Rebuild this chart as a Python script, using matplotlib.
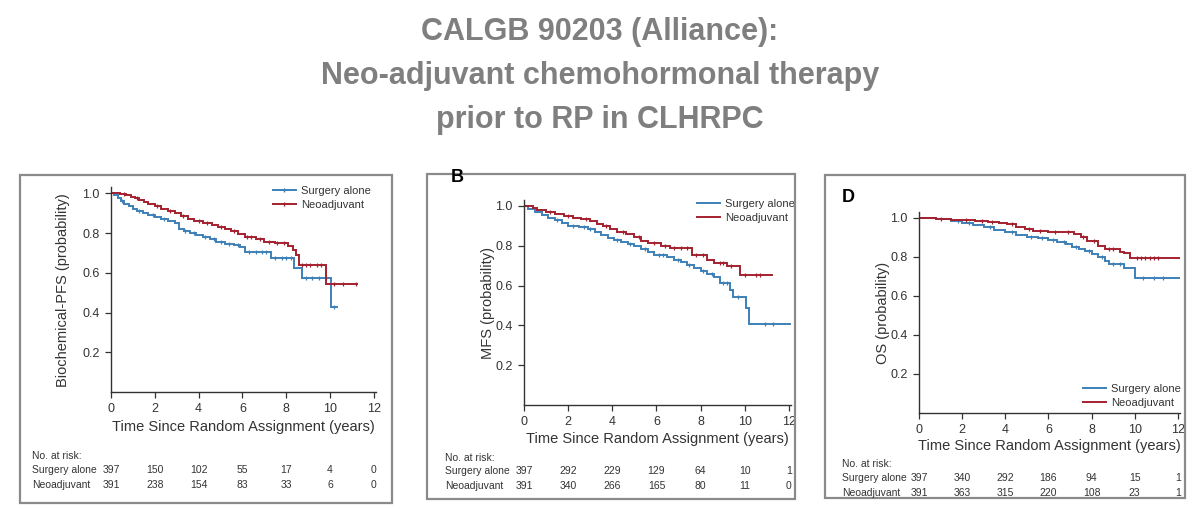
import numpy as np
import matplotlib
matplotlib.use("Agg")
import matplotlib.pyplot as plt
from matplotlib.lines import Line2D
from matplotlib.patches import Rectangle

plt.rcParams['font.family'] = ['Liberation Sans', 'DejaVu Sans']

W, H = 1200, 509
BLUE = "#3d80b8"
RED = "#a5202f"

title_lines = ["CALGB 90203 (Alliance):",
               "Neo-adjuvant chemohormonal therapy",
               "prior to RP in CLHRPC"]

groups = ["Surgery alone", "Neoadjuvant"]
risk_years = [0, 2, 4, 6, 8, 10, 12]

# Panel A: biochemical PFS
pfs_t_surg = [0, 0.15, 0.3, 0.45, 0.6, 0.8, 1.0, 1.2, 1.45, 1.7, 2.0, 2.3, 2.6, 2.9, 3.1, 3.35,
              3.6, 3.9, 4.2, 4.5, 4.8, 5.2, 5.6, 5.9, 6.1, 7.3, 8.35, 8.7, 10.05, 10.3]
pfs_s_surg = [1.0, 0.99, 0.975, 0.96, 0.948, 0.935, 0.922, 0.91, 0.90, 0.892, 0.882, 0.872, 0.862,
              0.849, 0.82, 0.81, 0.80, 0.79, 0.78, 0.77, 0.755, 0.745, 0.74, 0.73, 0.705, 0.675,
              0.625, 0.575, 0.43, 0.43]
pfs_t_neo = [0, 0.4, 0.7, 0.9, 1.1, 1.3, 1.5, 1.7, 2.0, 2.3, 2.6, 2.9, 3.2, 3.5, 3.8, 4.2, 4.6,
             4.9, 5.2, 5.5, 5.8, 6.1, 6.6, 7.0, 7.5, 8.1, 8.3, 8.45, 8.6, 9.8, 11.25]
pfs_s_neo = [1.0, 0.995, 0.99, 0.983, 0.975, 0.965, 0.955, 0.945, 0.935, 0.922, 0.912, 0.9, 0.888,
             0.872, 0.858, 0.852, 0.842, 0.83, 0.818, 0.808, 0.795, 0.78, 0.768, 0.755, 0.748,
             0.735, 0.715, 0.69, 0.638, 0.545, 0.545]
pfs_cens_surg = [0.5, 1.3, 1.9, 2.4, 3.4, 3.8, 4.3, 4.7, 5.0, 5.4, 5.8, 6.3, 6.6, 6.9, 7.1, 7.5,
                 7.8, 8.0, 8.2, 8.9, 9.2, 9.5, 9.8, 10.2]
pfs_cens_neo = [0.6, 1.2, 2.1, 2.7, 3.3, 4.0, 4.4, 5.0, 5.6, 6.2, 6.4, 6.8, 7.2, 7.6, 7.9, 8.7,
                8.9, 9.1, 9.4, 9.6, 10.2, 10.6, 11.2]
pfs_risk_surg = [397, 150, 102, 55, 17, 4, 0]
pfs_risk_neo = [391, 238, 154, 83, 33, 6, 0]

# Panel B: MFS
mfs_t_surg = [0, 0.2, 0.5, 0.8, 1.1, 1.4, 1.7, 2.0, 2.5, 2.9, 3.2, 3.5, 3.8, 4.1, 4.4, 4.7, 5.0,
              5.3, 5.6, 5.9, 6.5, 6.8, 7.1, 7.4, 7.7, 8.0, 8.3, 8.6, 8.9, 9.35, 9.45, 10.05, 10.2,
              12.05]
mfs_s_surg = [1.0, 0.985, 0.97, 0.955, 0.942, 0.928, 0.912, 0.899, 0.893, 0.882, 0.868, 0.853,
              0.84, 0.83, 0.82, 0.81, 0.797, 0.783, 0.767, 0.752, 0.742, 0.73, 0.718, 0.703,
              0.688, 0.675, 0.66, 0.645, 0.615, 0.58, 0.545, 0.489, 0.405, 0.405]
mfs_t_neo = [0, 0.4, 0.6, 1.0, 1.4, 1.8, 2.2, 2.6, 3.0, 3.3, 3.6, 3.9, 4.2, 4.6, 5.0, 5.3, 5.6,
             6.2, 6.6, 7.6, 8.3, 8.6, 9.2, 9.8, 11.25]
mfs_s_neo = [1.0, 0.99, 0.98, 0.971, 0.962, 0.952, 0.942, 0.935, 0.922, 0.91, 0.9, 0.885, 0.868,
             0.858, 0.843, 0.825, 0.812, 0.8, 0.79, 0.755, 0.73, 0.715, 0.70, 0.655, 0.655]
mfs_cens_surg = [1.5, 2.2, 2.7, 3.0, 4.2, 4.8, 5.5, 6.1, 6.3, 7.0, 7.5, 8.1, 8.5, 9.0, 9.2, 9.7,
                 10.9, 11.3]
mfs_cens_neo = [1.2, 2.0, 2.8, 3.7, 4.5, 5.2, 5.9, 6.4, 6.8, 7.1, 7.4, 7.8, 8.1, 8.9, 9.0, 9.4,
                10.0, 10.5, 10.7]
mfs_risk_surg = [397, 292, 229, 129, 64, 10, 1]
mfs_risk_neo = [391, 340, 266, 165, 80, 11, 0]

# Panel D: OS
os_t_surg = [0, 0.8, 1.5, 2.0, 2.5, 3.0, 3.5, 4.0, 4.5, 5.0, 5.5, 6.0, 6.4, 6.8, 7.1, 7.4, 7.7,
             8.0, 8.3, 8.6, 8.8, 9.5, 10.0, 12.1]
os_s_surg = [1.0, 0.995, 0.985, 0.975, 0.965, 0.952, 0.94, 0.928, 0.914, 0.902, 0.896, 0.887,
             0.877, 0.865, 0.852, 0.84, 0.828, 0.815, 0.8, 0.78, 0.764, 0.742, 0.69, 0.69]
os_t_neo = [0, 0.8, 1.5, 2.6, 3.2, 3.7, 4.1, 4.5, 4.9, 5.3, 6.0, 6.6, 7.2, 7.5, 7.8, 8.3, 8.6,
            9.3, 9.5, 9.8, 12.1]
os_s_neo = [1.0, 0.995, 0.99, 0.985, 0.98, 0.975, 0.968, 0.955, 0.943, 0.935, 0.93, 0.925, 0.915,
            0.9, 0.882, 0.855, 0.842, 0.827, 0.82, 0.796, 0.796]
os_cens_surg = [1.8, 2.3, 3.3, 4.3, 5.2, 5.7, 6.2, 6.7, 7.3, 7.9, 8.5, 9.0, 9.3, 10.4, 10.9, 11.3]
os_cens_neo = [1.0, 2.2, 2.9, 3.4, 4.3, 5.1, 5.6, 6.3, 6.9, 7.6, 8.1, 8.8, 9.0, 10.1, 10.3, 10.5,
               10.7, 10.9, 11.1]
os_risk_surg = [397, 340, 292, 186, 94, 15, 1]
os_risk_neo = [391, 363, 315, 220, 108, 23, 1]


def fx(px):
    return px / W


def fy(py):
    return 1 - py / H


def step_value(t, s, x):
    idx = np.searchsorted(t, x, side="right") - 1
    return np.asarray(s)[idx]


def km(ax, t, s, cens, color):
    ax.plot(t, s, drawstyle="steps-post", color=color, lw=1.4, solid_joinstyle="miter")
    ax.plot(cens, step_value(t, s, cens), ls="none", marker="|", ms=3.5, mew=0.9, color=color)


fig = plt.figure(figsize=(W / 100, H / 100), dpi=100)

for line, py in zip(title_lines, [32, 76, 120]):
    fig.text(0.5, fy(py), line, ha="center", va="center", fontsize=22, fontweight="bold",
             color="#7f7f7f")

panels = [
    dict(box=(20, 175, 392, 503), ax=(111, 376, 392, 204.7), ylab="Biochemical-PFS (probability)",
         ylab_pos=(63, 290), xlab_y=427, risk_y=(456, 470, 485), risk_x=32,
         curves=(pfs_t_surg, pfs_s_surg, pfs_cens_surg, pfs_t_neo, pfs_s_neo, pfs_cens_neo),
         risk=(pfs_risk_surg, pfs_risk_neo), letter=None,
         leg=dict(loc="upper right", at=(371, 186)), leg_marks=True),
    dict(box=(427, 174, 795, 499), ax=(524, 791, 405, 205), ylab="MFS (probability)",
         ylab_pos=(488, 303), xlab_y=439, risk_y=(458, 471, 486), risk_x=445,
         curves=(mfs_t_surg, mfs_s_surg, mfs_cens_surg, mfs_t_neo, mfs_s_neo, mfs_cens_neo),
         risk=(mfs_risk_surg, mfs_risk_neo), letter=("B", 457, 178),
         leg=dict(loc="upper right", at=(795, 199)), leg_marks=False),
    dict(box=(825, 175, 1185, 498), ax=(919, 1180, 413, 201), ylab="OS (probability)",
         ylab_pos=(883, 313), xlab_y=446, risk_y=(464, 478, 493), risk_x=842,
         curves=(os_t_surg, os_s_surg, os_cens_surg, os_t_neo, os_s_neo, os_cens_neo),
         risk=(os_risk_surg, os_risk_neo), letter=("D", 848, 198),
         leg=dict(loc="lower right", at=(1181, 408)), leg_marks=False),
]

for p in panels:
    x0, y0, x1, y1 = p["box"]
    fig.patches.append(Rectangle((fx(x0), fy(y1)), (x1 - x0) / W, (y1 - y0) / H,
                                 transform=fig.transFigure, fill=False, ec="#8a8a8a", lw=1.6))
    l, r, b, h = p["ax"]
    ax = fig.add_axes([fx(l), fy(b), (r - l) / W, h / H])
    ts, ss, cs, tn, sn, cn = p["curves"]
    km(ax, ts, ss, cs, BLUE)
    km(ax, tn, sn, cn, RED)
    ax.set_xlim(0, 12.1)
    ax.set_ylim(0, 1.03)
    ax.set_xticks(risk_years)
    ax.set_yticks([0.2, 0.4, 0.6, 0.8, 1.0])
    ax.set_yticklabels(["0.2", "0.4", "0.6", "0.8", "1.0"])
    for side in ["top", "right"]:
        ax.spines[side].set_visible(False)
    for side in ["left", "bottom"]:
        ax.spines[side].set_color("#333333")
        ax.spines[side].set_linewidth(1.0)
    ax.tick_params(labelsize=9, length=4, width=0.9, colors="#333333", pad=4)
    ax.patch.set_alpha(0)

    fig.text(fx(p["ylab_pos"][0]), fy(p["ylab_pos"][1]), p["ylab"], rotation=90,
             ha="center", va="center", fontsize=10.5, color="#333333")
    fig.text(fx((l + r) / 2), fy(p["xlab_y"]), "Time Since Random Assignment (years)",
             ha="center", va="center", fontsize=10.5, color="#333333")

    handles = [Line2D([], [], color=BLUE, lw=1.4, marker="|" if p["leg_marks"] else None,
                      ms=3.5, markevery=[1]),
               Line2D([], [], color=RED, lw=1.4, marker="|" if p["leg_marks"] else None,
                      ms=3.5, markevery=[1])]
    ax.legend(handles, groups, loc=p["leg"]["loc"], bbox_to_anchor=(fx(p["leg"]["at"][0]), fy(p["leg"]["at"][1])),
              bbox_transform=fig.transFigure, frameon=False, fontsize=8, handlelength=2.0,
              handletextpad=0.5, labelspacing=0.35, borderpad=0, borderaxespad=0,
              labelcolor="#333333")

    if p["letter"]:
        let, lx, ly = p["letter"]
        fig.text(fx(lx), fy(ly), let, ha="center", va="center", fontsize=13, fontweight="bold",
                 color="black")

    # risk table
    ry0, ry1, ry2 = p["risk_y"]
    fig.text(fx(p["risk_x"]), fy(ry0), "No. at risk:", ha="left", va="center", fontsize=7.5,
             color="#333333")
    trans = matplotlib.transforms.blended_transform_factory(ax.transData, fig.transFigure)
    for name, counts, ry in zip(groups, p["risk"], (ry1, ry2)):
        fig.text(fx(p["risk_x"]), fy(ry), name, ha="left", va="center", fontsize=7.5,
                 color="#333333")
        for yr, n in zip(risk_years, counts):
            ax.text(yr, fy(ry), str(n), transform=trans, ha="center", va="center",
                    fontsize=7.5, color="#333333", clip_on=False)

fig.savefig("out.png", dpi=100)
